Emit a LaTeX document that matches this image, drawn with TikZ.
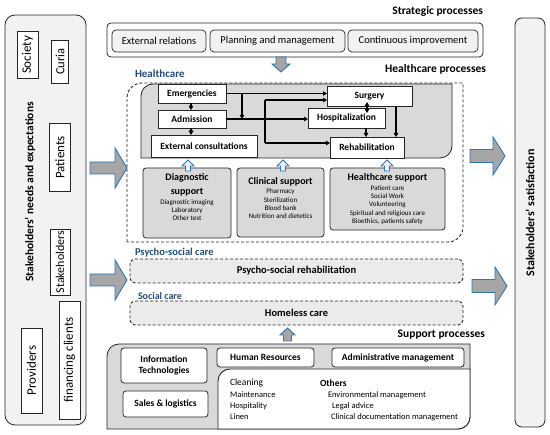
\documentclass[tikz,border=0pt]{standalone}
\usepackage{fontspec}
\setmainfont{Carlito}
\usetikzlibrary{arrows.meta,calc}
\definecolor{hcgray}{HTML}{D9D9D9}
\definecolor{lgray}{HTML}{F2F2F2}
\definecolor{dashfill}{HTML}{EBEBEB}
\definecolor{bluetxt}{HTML}{1F4E79}
\definecolor{arrblue}{HTML}{2E75B6}
\definecolor{arrfill}{HTML}{A6A6A6}
\definecolor{linec}{HTML}{262626}
\newcommand{\myHArrow}[7]{% style, tail x, tip x, mid y, shaft half, head half, head length
  \draw[#1] (#2,{#4-#5}) -- ({#3-(#7)},{#4-#5}) -- ({#3-(#7)},{#4-#6}) -- (#3,#4) -- ({#3-(#7)},{#4+#6}) -- ({#3-(#7)},{#4+#5}) -- (#2,{#4+#5}) -- cycle;}
\newcommand{\myVArrow}[7]{% style, tail y, tip y, mid x, shaft half, head half, head length (signed)
  \draw[#1] ({#4-#5},#2) -- ({#4-#5},{#3-(#7)}) -- ({#4-#6},{#3-(#7)}) -- (#4,#3) -- ({#4+#6},{#3-(#7)}) -- ({#4+#5},{#3-(#7)}) -- ({#4+#5},#2) -- cycle;}
\begin{document}
\begin{tikzpicture}[x=1pt,y=-1pt,
  every node/.style={inner sep=0pt, outer sep=0pt},
  wbox/.style={draw=linec, line width=0.8pt, fill=white, font=\fontsize{9.5}{11}\selectfont\bfseries},
  sbox/.style={draw=linec, line width=0.7pt, fill=lgray, rounded corners=4pt, font=\fontsize{10.5}{12}\selectfont},
  rbox/.style={draw=linec, line width=0.8pt, fill=white, rounded corners=3pt, font=\fontsize{9.5}{11.5}\selectfont\bfseries, align=center},
  supbox/.style={draw=linec, line width=0.8pt, fill=hcgray, rounded corners=3pt},
  suphead/.style={font=\fontsize{10}{14}\selectfont\bfseries, align=center},
  suplist/.style={font=\fontsize{7}{8.3}\selectfont, align=center},
  title/.style={font=\fontsize{11.5}{13}\selectfont\bfseries},
  btitle/.style={font=\fontsize{10.5}{12}\selectfont\bfseries, text=bluetxt},
  stk/.style={draw=linec, line width=0.8pt, fill=white, rotate=90, font=\fontsize{12.5}{14}\selectfont},
  dbox/.style={draw=linec, line width=0.9pt, dash pattern=on 3pt off 2pt, fill=dashfill, rounded corners=5pt, font=\fontsize{10.5}{12}\selectfont\bfseries},
  bigarr/.style={draw=arrblue, fill=arrfill, line width=0.9pt},
  smallarr/.style={draw=arrblue, fill=lgray, line width=0.8pt},
  arr/.style={line width=1.2pt, -{Triangle[length=4pt,width=4.5pt]}},
  arrb/.style={line width=1.2pt, {Triangle[length=4pt,width=4.5pt]}-{Triangle[length=4pt,width=4.5pt]}},
  lst/.style={font=\fontsize{8.5}{10}\selectfont, anchor=west}
]
\useasboundingbox (0,0) rectangle (550,435);

% ---------- Stakeholders' needs (left) ----------
\node[draw=linec, line width=0.8pt, fill=lgray, rounded corners=10pt, minimum width=81pt, minimum height=410pt] (needs) at (45.5,220) {};
\node[stk, minimum width=47pt, minimum height=21pt, font=\fontsize{13}{14}\selectfont] (society) at (27.5,55) {Society};
\node[stk, minimum width=43pt, minimum height=17pt, font=\fontsize{12.5}{14}\selectfont] (curia) at (60,61.5) {Curia};
\node[rotate=90, font=\fontsize{11.5}{14}\selectfont\bfseries] (needsT) at (30,192) {Stakeholders' needs and expectations};
\node[stk, minimum width=68pt, minimum height=21pt, font=\fontsize{13}{14}\selectfont] (patients) at (60,157.5) {Patients};
\node[stk, minimum width=66pt, minimum height=20pt, font=\fontsize{12}{14}\selectfont] (stakeh) at (60,262) {Stakeholders};
\node[stk, minimum width=85pt, minimum height=21pt, font=\fontsize{13}{14}\selectfont] (providers) at (31.5,370.5) {Providers};
\node[stk, minimum width=118pt, minimum height=21pt, font=\fontsize{13}{14}\selectfont] (financing) at (69.5,360) {financing clients};

% ---------- Stakeholders' satisfaction (right) ----------
\node[draw=linec, line width=0.8pt, fill=lgray, rounded corners=7pt, minimum width=30pt, minimum height=409pt] (satbox) at (530,222.5) {};
\node[rotate=90, font=\fontsize{12}{14}\selectfont\bfseries] (satT) at (530,213) {Stakeholders' satisfaction};

% ---------- Strategic processes ----------
\node[title, anchor=east] (stratT) at (483,11) {Strategic processes};
\node[draw=linec, line width=0.8pt, fill=white, rounded corners=4pt, minimum width=376pt, minimum height=34pt] (strat) at (295,40) {};
\node[sbox, minimum width=94pt, minimum height=22pt] (extrel) at (159,41) {External relations};
\node[sbox, minimum width=135pt, minimum height=22pt] (plan) at (277.5,41) {Planning and management};
\node[sbox, minimum width=130pt, minimum height=22pt] (cont) at (413,41) {Continuous improvement};
\myVArrow{bigarr}{57}{72}{281}{5}{9}{8}

% ---------- Healthcare ----------
\node[title, anchor=east] (hcT) at (486,69) {Healthcare processes};
\node[btitle, font=\fontsize{11}{12}\selectfont\bfseries, anchor=west] (hcB) at (135,74) {Healthcare};
\draw[line width=0.9pt, dash pattern=on 3pt off 2pt, draw=linec, fill=white]
  (127,242) -- (127,98) arc[start angle=180, end angle=270, radius=15] -- (463,83) -- (463,227) arc[start angle=0, end angle=90, radius=15] -- cycle;
\draw[line width=0.8pt, draw=linec, fill=hcgray]
  (141,158) -- (141,96) arc[start angle=180, end angle=270, radius=12] -- (452,84) -- (452,146) arc[start angle=0, end angle=90, radius=12] -- cycle;

\node[wbox, minimum width=68pt, minimum height=19pt] (em) at (192,93.5) {Emergencies};
\node[wbox, minimum width=68pt, minimum height=18pt] (adm) at (192,119) {Admission};
\node[wbox, minimum width=106pt, minimum height=22pt] (ext) at (204,146) {External consultations};
\node[wbox, minimum width=85pt, minimum height=20pt] (sur) at (369.5,96) {Surgery};
\node[wbox, minimum width=77pt, minimum height=20pt] (hosp) at (346.5,118) {Hospitalization};
\node[wbox, minimum width=74pt, minimum height=21pt] (reh) at (367,147.5) {Rehabilitation};

\coordinate (v1) at (265,100);
\coordinate (v2) at (265,143);
\draw[arr] (em.south -| 191,0) -- (adm.north -| 191,0);
\draw[arrb] (adm.south -| 191,0) -- (ext.north -| 191,0);
\draw[arr] (em.east) -- (em.east -| sur.west);
\draw[arr] (em.east -| 242,0) -- (adm.east -| 242,0);
\draw[arr] (adm.east) -- (adm.east -| hosp.west);
\draw[line width=1.2pt] (v1) -- (v2);
\draw[arr] (v1) -- (v1 -| sur.west);
\draw[arr] (v2) -- (v2 -| reh.west);
\draw[arrb, shorten <=-4pt, shorten >=-5pt] (sur.south -| 367,0) -- (hosp.north -| 367,0);
\draw[arr] (hosp.south -| 366,0) -- (reh.north -| 366,0);
\draw[arr] (sur.south -| 396,0) -- (reh.north -| 396,0);

% support boxes
\node[supbox, minimum width=88pt, minimum height=70pt] (diag) at (187,203) {};
\node[supbox, minimum width=87pt, minimum height=69pt] (clin) at (280.5,202.5) {};
\node[supbox, minimum width=115pt, minimum height=62pt] (hcs) at (387.5,199) {};
\node[suphead] (diagH) at ($(diag.north)+(0,17)$) {Diagnostic\\support};
\node[suplist] (diagL) at ($(diag.north)+(0,42)$) {Diagnostic imaging\\Laboratory\\Other test};
\node[suphead] (clinH) at ($(clin.north)+(0,14)$) {Clinical support};
\node[suplist] (clinL) at ($(clin.north)+(0,36)$) {Pharmacy\\Sterilization\\Blood bank\\Nutrition and dietetics};
\node[suphead] (hcsH) at ($(hcs.north)+(0,10)$) {Healthcare support};
\node[suplist] (hcsL) at ($(hcs.north)+(0,37)$) {Patient care\\Social Work\\Volunteering\\Spiritual and religious care\\Bioethics, patients safety};
\myVArrow{smallarr}{171}{160}{188}{2.5}{6}{-6}
\myVArrow{smallarr}{171}{160}{283}{2.5}{6}{-6}
\myVArrow{smallarr}{171}{160}{387}{2.5}{6}{-6}

% ---------- Psycho-social and social care ----------
\node[btitle, anchor=west] (psyB) at (135,253) {Psycho-social care};
\node[dbox, minimum width=333pt, minimum height=24pt] (psy) at (296.5,271) {Psycho-social rehabilitation};
\node[btitle, anchor=west, font=\fontsize{10}{12}\selectfont\bfseries] (socB) at (138,296) {Social care};
\node[dbox, minimum width=333pt, minimum height=24pt] (home) at (296.5,313) {Homeless care};

% ---------- Support processes ----------
\node[title, anchor=east] (supT) at (485,335) {Support processes};
\myVArrow{bigarr}{341}{328}{287.5}{4}{7.5}{-7}
\draw[line width=0.8pt, draw=linec, fill=hcgray]
  (107,429) -- (107,356) arc[start angle=180, end angle=270, radius=12] -- (470,344) -- (470,417) arc[start angle=0, end angle=90, radius=12] -- cycle;
\draw[line width=0.9pt, draw=linec, fill=white]
  (218,429) -- (218,381) arc[start angle=180, end angle=270, radius=12] -- (470,369) -- (470,417) arc[start angle=0, end angle=90, radius=12] -- cycle;
\node[rbox, minimum width=86pt, minimum height=35pt] (it) at (164,365.5) {Information\\Technologies};
\node[rbox, minimum width=85pt, minimum height=26pt] (sales) at (165.5,404) {Sales \& logistics};
\node[rbox, minimum width=97pt, minimum height=19pt] (hr) at (265.5,357.5) {Human Resources};
\node[rbox, minimum width=132pt, minimum height=19pt] (admin) at (398,357.5) {Administrative management};
\node[lst, font=\fontsize{9.5}{11}\selectfont] (clean) at (230,383) {Cleaning};
\node[lst] (maint) at (230,395) {Maintenance};
\node[lst] (hosp2) at (230,406) {Hospitality};
\node[lst] (linen) at (230,417) {Linen};
\node[lst, font=\fontsize{9.5}{11}\selectfont\bfseries] (others) at (320,383) {Others};
\node[lst] (env) at (328,395) {Environmental management};
\node[lst] (legal) at (332,406) {Legal advice};
\node[lst] (clindoc) at (331,417) {Clinical documentation management};

% ---------- big arrows ----------
\myHArrow{bigarr}{90}{127}{168}{6}{20}{12}
\myHArrow{bigarr}{90}{127}{280}{6}{20}{12}
\myHArrow{bigarr}{470}{505}{156}{6.5}{19}{12}
\myHArrow{bigarr}{472}{507}{286}{6.5}{19}{12}
\end{tikzpicture}
\end{document}
